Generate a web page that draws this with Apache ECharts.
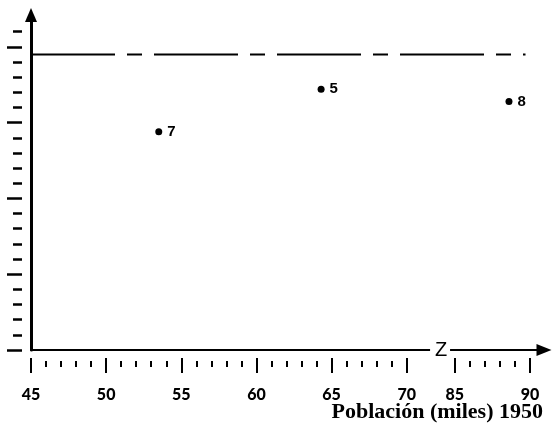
<!DOCTYPE html>
<html>
<head>
<meta charset="utf-8">
<script src="https://cdn.jsdelivr.net/npm/echarts@6/dist/echarts.min.js"></script>
<style>
  html, body { margin: 0; padding: 0; background: #fff; }
  #chart { width: 553px; height: 424px; }
</style>
</head>
<body>
<div id="chart"></div>
<script>
// Labelled observations: population (thousands, 1950) vs. vertical value
const pointNames = ['7', '5', '8'];
const pointPopulation = [53.5, 64.3, 88.6];
const pointValues = [14.4, 17.2, 16.4];

// Horizontal dashed reference level and its horizontal extent
const referenceLevel = 19.5;
const referenceSpan = [45, 89.7];

// Tick marks
const xMajorTicks = [45, 50, 55, 60, 65, 70, 85, 90];
const xMinorTicks = [45, 46, 47, 48, 49, 50, 51, 52, 53, 54, 55, 56, 57, 58, 59, 60,
                     61, 62, 63, 64, 65, 66, 67, 68, 69, 70, 85, 86, 87, 88, 89, 90];
const yMajorTicks = [0, 5, 10, 15, 20];
const yMinorTicks = [0, 1, 2, 3, 4, 5, 6, 7, 8, 9, 10, 11, 12, 13, 14, 15, 16, 17, 18, 19, 20, 21];

const axisTitle = 'Población (miles) 1950';

// The stretch between 70 and 85 is cut out of the horizontal scale.
const BREAK_LOW = 70, BREAK_HIGH = 85, BREAK_SHIFT = 11.8;
const toAxis = v => (v >= BREAK_HIGH ? v - BREAK_SHIFT : v);
const fromAxis = a => (a > BREAK_LOW + 0.5 ? a + BREAK_SHIFT : a);

const X_MIN = 45, X_MAX = 79.13;
const Y_MIN = 0, Y_MAX = 22.1;
const INK = '#000';

const chart = echarts.init(document.getElementById('chart'), null, { renderer: 'canvas' });

const baseX = { type: 'value', min: X_MIN, max: X_MAX, splitLine: { show: false }, gridIndex: 0 };
const baseY = { type: 'value', min: Y_MIN, max: Y_MAX, splitLine: { show: false }, gridIndex: 0 };

chart.setOption({
  animation: false,
  backgroundColor: '#fff',
  grid: { left: 31, top: 15, width: 513, height: 335 },
  xAxis: [
    Object.assign({}, baseX, {
      position: 'bottom',
      axisLine: { show: true, onZero: false, symbol: ['none', 'triangle'], symbolSize: [12, 15],
                  lineStyle: { color: INK, width: 2 } },
      axisTick: { show: false },
      axisLabel: { show: false },
      name: axisTitle,
      nameLocation: 'end',
      nameGap: -1,
      nameTextStyle: { fontFamily: 'Liberation Serif', fontWeight: 'bold', fontSize: 22, color: INK,
                       align: 'right', verticalAlign: 'top', padding: [51, 0, 0, 0] }
    }),
    // short ticks, one per unit, set slightly apart from the axis line
    Object.assign({}, baseX, {
      position: 'bottom', offset: 11,
      axisLine: { show: false, onZero: false },
      axisTick: { show: true, inside: false, length: 6, customValues: xMinorTicks.map(toAxis),
                  lineStyle: { color: INK, width: 2 } },
      axisLabel: { show: false }
    }),
    // long ticks and numbers every five units
    Object.assign({}, baseX, {
      position: 'bottom', offset: 8,
      axisLine: { show: false, onZero: false },
      axisTick: { show: true, inside: false, length: 15, customValues: xMajorTicks.map(toAxis),
                  lineStyle: { color: INK, width: 2 } },
      axisLabel: { show: true, margin: 29, customValues: xMajorTicks.map(toAxis),
                   formatter: a => String(Math.round(fromAxis(a))),
                   fontFamily: 'Lato', fontWeight: 900, fontSize: 16, color: INK }
    })
  ],
  yAxis: [
    Object.assign({}, baseY, {
      position: 'left',
      axisLine: { show: true, onZero: false, symbol: ['none', 'triangle'], symbolSize: [12, 14],
                  lineStyle: { color: INK, width: 3 } },
      axisTick: { show: false },
      axisLabel: { show: false }
    }),
    Object.assign({}, baseY, {
      position: 'left', offset: 9,
      axisLine: { show: false, onZero: false },
      axisTick: { show: true, inside: false, length: 9, customValues: yMinorTicks,
                  lineStyle: { color: INK, width: 2.5 } },
      axisLabel: { show: false }
    }),
    Object.assign({}, baseY, {
      position: 'left', offset: 9,
      axisLine: { show: false, onZero: false },
      axisTick: { show: true, inside: false, length: 15, customValues: yMajorTicks,
                  lineStyle: { color: INK, width: 2.5 } },
      axisLabel: { show: false }
    })
  ],
  series: [
    {
      type: 'line',
      xAxisIndex: 0, yAxisIndex: 0,
      silent: true,
      symbol: 'none',
      data: referenceSpan.map(x => [toAxis(x), referenceLevel]),
      lineStyle: { color: INK, width: 2, type: [84, 12, 15, 12] }
    },
    {
      type: 'scatter',
      xAxisIndex: 0, yAxisIndex: 0,
      symbol: 'circle',
      symbolSize: 7,
      itemStyle: { color: INK, opacity: 1 },
      data: pointPopulation.map((p, i) => ({ name: pointNames[i], value: [toAxis(p), pointValues[i]] })),
      label: {
        show: true, position: 'right', distance: 5,
        formatter: p => p.name,
        fontFamily: 'Liberation Sans', fontWeight: 'bold', fontSize: 15, color: INK
      }
    }
  ]
});

// Break mark on the horizontal axis between 70 and 85
const gapLeft = chart.convertToPixel({ xAxisIndex: 0 }, 71.55);
const gapRight = chart.convertToPixel({ xAxisIndex: 0 }, 72.88);
const axisY = chart.convertToPixel({ yAxisIndex: 0 }, 0);
chart.setOption({
  graphic: [
    { type: 'rect', shape: { x: gapLeft, y: axisY - 3, width: gapRight - gapLeft, height: 6 },
      style: { fill: '#fff' }, z: 100 },
    { type: 'text', x: (gapLeft + gapRight) / 2 + 1, y: axisY, z: 101,
      style: { text: 'Z', fontFamily: 'Liberation Sans', fontSize: 20, fill: INK,
               align: 'center', verticalAlign: 'middle' } }
  ]
});
</script>
</body>
</html>
